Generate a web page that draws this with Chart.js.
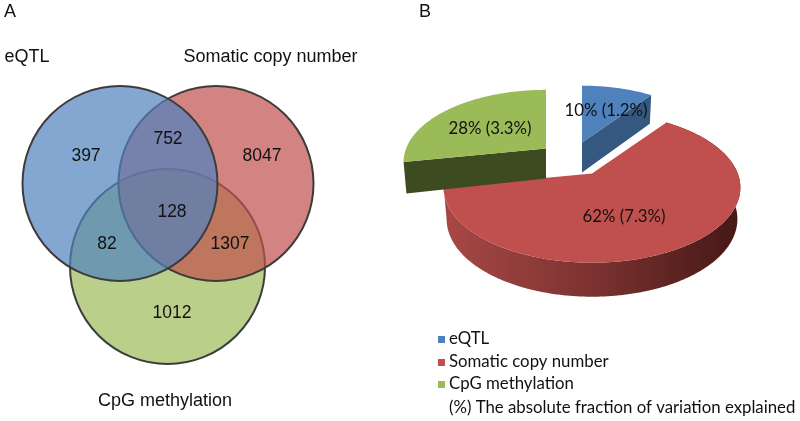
<!DOCTYPE html>
<html>
<head>
<meta charset="utf-8">
<style>
  html, body { margin: 0; padding: 0; background: #fff; }
  canvas { position: absolute; top: 0; }
  #venn-chart { left: 0; }
  #pie-chart { left: 390px; }
</style>
<script src="https://cdn.jsdelivr.net/npm/chart.js@4/dist/chart.umd.min.js"></script>
</head>
<body>
<canvas id="venn-chart" width="390" height="421"></canvas>
<canvas id="pie-chart" width="410" height="421"></canvas>
<script>
const categories = ['eQTL', 'Somatic copy number', 'CpG methylation'];
const shareValues = [10, 62, 28];
const absoluteValues = [1.2, 7.3, 3.3];
const vennCounts = [397, 752, 8047, 128, 82, 1307, 1012];
const footnote = '(%) The absolute fraction of variation explained';

// layout, in page pixels
const vennCircles = [[120, 183.5, 97.5], [216, 183.5, 97.5], [167.5, 266.5, 97.5]];
const vennCountSpots = [[86, 156.5], [168, 139.5], [262, 156.5], [172, 212.5], [107, 244.5], [230, 244.5], [172, 313.5]];
const vennNameSpots = [[27, 57], [270.5, 57], [165, 401]];
const pieLabelSpots = [[606, 111], [624, 217], [490, 129]];
const legendRows = [339, 362, 384];
const sliceShift = [[-10, -31], [0, 0], [-46, -25]];
const sliceScale = [0.93, 1, 0.96];
const sliceWalls = ['#34587f', null, '#3e4a20'];
const colors = ['#4f81bd', '#c0504d', '#9bbb59'];
const vennFills = ['rgba(79,129,189,0.7)', 'rgba(192,80,77,0.7)', 'rgba(155,187,89,0.7)'];
const drawOrder = [1, 2, 0];
const PIE_LEFT = 390;

// Venn chart //
const vennText = {
    id: 'vennText',
    afterDatasetsDraw(chart) {
        const ctx = chart.ctx, x = chart.scales.x, y = chart.scales.y;
        ctx.save();
        ctx.fillStyle = '#111';
        ctx.textAlign = 'center';
        ctx.textBaseline = 'middle';
        ctx.font = '17.5px "Liberation Sans"';
        vennCounts.forEach((n, i) => {
            ctx.fillText(String(n), x.getPixelForValue(vennCountSpots[i][0]), y.getPixelForValue(vennCountSpots[i][1]));
        });
        ctx.font = '18px "Liberation Sans"';
        categories.forEach((name, i) => {
            ctx.fillText(name, x.getPixelForValue(vennNameSpots[i][0]), y.getPixelForValue(vennNameSpots[i][1]));
        });
        ctx.fillText('A', 10, 12);
        ctx.restore();
    }
};

new Chart(document.getElementById('venn-chart'), {
    type: 'bubble',
    data: {
        datasets: categories.map((name, i) => ({
            label: name,
            data: [{ x: vennCircles[i][0], y: vennCircles[i][1], r: vennCircles[i][2] }],
            backgroundColor: vennFills[i],
            borderColor: '#3c3c3c',
            borderWidth: 2,
            clip: false
        }))
    },
    options: {
        responsive: false,
        animation: false,
        events: [],
        layout: { padding: 0, autoPadding: false },
        scales: {
            x: { type: 'linear', min: 0, max: 390, display: false },
            y: { type: 'linear', min: 0, max: 421, reverse: true, display: false }
        },
        plugins: { legend: { display: false }, tooltip: { enabled: false } }
    },
    plugins: [vennText]
});

// 3D pie, perspective view of the arcs chart.js lays out //
const TILT = 0.187, DEPTH = 31;

function rimPoint(arc, i, theta, low) {
    const R = arc.outerRadius * sliceScale[i];
    const b = R * 0.84, a = R * 0.418;
    const u = Math.sin(theta), v = Math.cos(theta);
    const w = 1 + TILT * v;
    const cx = arc.x + sliceShift[i][0], cy = arc.y + sliceShift[i][1];
    const X = b * u / w, Y = -a * v / w;
    if (!low) return [cx + X, cy + Y];
    return [cx + X * 0.98, cy + Y + DEPTH - 3 * v];
}

function apexPoint(arc, i, low) {
    const cx = arc.x + sliceShift[i][0], cy = arc.y + sliceShift[i][1];
    return [cx, low ? cy + DEPTH - 1 : cy];
}

function arcPoints(arc, i, low) {
    const start = arc.startAngle + Math.PI / 2, end = arc.endAngle + Math.PI / 2;
    const steps = Math.ceil((end - start) / 0.01);
    const pts = [];
    for (let s = 0; s <= steps; s++) pts.push(rimPoint(arc, i, start + (end - start) * s / steps, low));
    return pts;
}

function fillPoly(ctx, pts, fill) {
    ctx.beginPath();
    pts.forEach((p, k) => (k ? ctx.lineTo(p[0], p[1]) : ctx.moveTo(p[0], p[1])));
    ctx.closePath();
    ctx.fillStyle = fill;
    ctx.fill();
}

const pie3d = {
    id: 'pie3d',
    beforeDatasetDraw(chart) {
        const ctx = chart.ctx;
        const arcs = chart.getDatasetMeta(0).data;
        drawOrder.forEach(i => {
            const arc = arcs[i];
            const top = arcPoints(arc, i, false);
            if (sliceWalls[i]) {
                // straight cut face towards the viewer
                const tipAngle = i === 0 ? arc.endAngle : arc.startAngle;
                const th = tipAngle + Math.PI / 2;
                fillPoly(ctx, [apexPoint(arc, i, false), rimPoint(arc, i, th, false), rimPoint(arc, i, th, true), apexPoint(arc, i, true)], sliceWalls[i]);
            } else {
                const low = arcPoints(arc, i, true);
                const grad = ctx.createLinearGradient(arc.x - 148, 0, arc.x + 148, 0);
                grad.addColorStop(0, '#a84846');
                grad.addColorStop(0.5, '#7c3230');
                grad.addColorStop(1, '#451816');
                fillPoly(ctx, top.concat(low.reverse()), grad);
            }
            fillPoly(ctx, [apexPoint(arc, i, false)].concat(top), colors[i]);
        });
        return false;
    },
    afterDatasetsDraw(chart) {
        const ctx = chart.ctx;
        ctx.save();
        ctx.fillStyle = '#111';
        ctx.textBaseline = 'middle';
        ctx.font = '16.8px Lato';
        ctx.textAlign = 'center';
        shareValues.forEach((v, i) => {
            ctx.fillText(v + '% (' + absoluteValues[i].toFixed(1) + '%)', pieLabelSpots[i][0] - PIE_LEFT, pieLabelSpots[i][1]);
        });
        ctx.textAlign = 'left';
        categories.forEach((name, i) => {
            ctx.fillStyle = colors[i];
            ctx.fillRect(438 - PIE_LEFT, legendRows[i] - 3, 7, 7);
            ctx.fillStyle = '#111';
            ctx.fillText(name, 449 - PIE_LEFT, legendRows[i]);
        });
        ctx.fillText(footnote, 449 - PIE_LEFT, 408);
        ctx.font = '18px "Liberation Sans"';
        ctx.fillText('B', 419 - PIE_LEFT, 12);
        ctx.restore();
    }
};

new Chart(document.getElementById('pie-chart'), {
    type: 'pie',
    data: {
        labels: categories,
        datasets: [{ data: shareValues, backgroundColor: colors, borderWidth: 0 }]
    },
    options: {
        responsive: false,
        animation: false,
        events: [],
        layout: { padding: { right: 6, bottom: 74 } },
        plugins: { legend: { display: false }, tooltip: { enabled: false } }
    },
    plugins: [pie3d]
});
</script>
</body>
</html>
